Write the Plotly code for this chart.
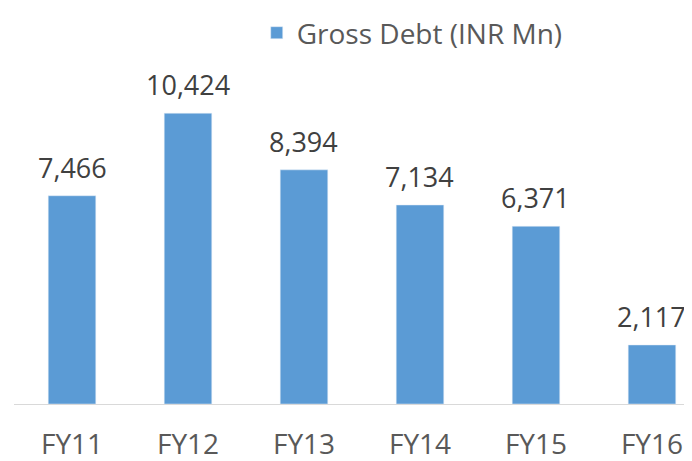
import plotly.graph_objects as go

# Gross debt by fiscal year
years = ["FY11", "FY12", "FY13", "FY14", "FY15", "FY16"]
gross_debt = [7466, 10424, 8394, 7134, 6371, 2117]
labels = ["7,466", "10,424", "8,394", "7,134", "6,371", "2,117"]

fig = go.Figure(
  data=[
    go.Bar(
      x=years,
      y=gross_debt,
      name="Gross Debt (INR Mn)",
      marker_color="#5b9bd5",
      cliponaxis=False,
    )
  ]
)

# value labels above the bars
for yr, val, lbl in zip(years, gross_debt, labels):
  fig.add_annotation(
    x=yr, y=val, text=lbl,
    showarrow=False,
    yanchor="bottom",
    yshift=8,
    font=dict(size=27, color="#404040"),
  )

# the page has an 8px body margin, so the figure is sized to fit the window
fig.update_layout(
  width=684,
  height=453,
  margin=dict(l=6, r=0, t=42, b=57, autoexpand=False),
  paper_bgcolor="white",
  plot_bgcolor="white",
  font=dict(family="'Open Sans', sans-serif", size=28, color="#595959"),
  bargap=0.59,
  showlegend=True,
  legend=dict(
    orientation="h",
    x=0.358,
    y=1.0,
    yref="container",
    xanchor="left",
    yanchor="top",
    borderwidth=0,
    font=dict(size=28, color="#595959"),
  ),
  xaxis=dict(
    range=[-0.5, 5.345],
    showline=True,
    linecolor="#d9d9d9",
    linewidth=1,
    ticks="",
    ticklabelstandoff=15,
    automargin=False,
    tickfont=dict(size=28, color="#595959"),
  ),
  yaxis=dict(
    range=[0, 12690],
    visible=False,
    showgrid=False,
    automargin=False,
  ),
)

fig.write_html("out.html")
